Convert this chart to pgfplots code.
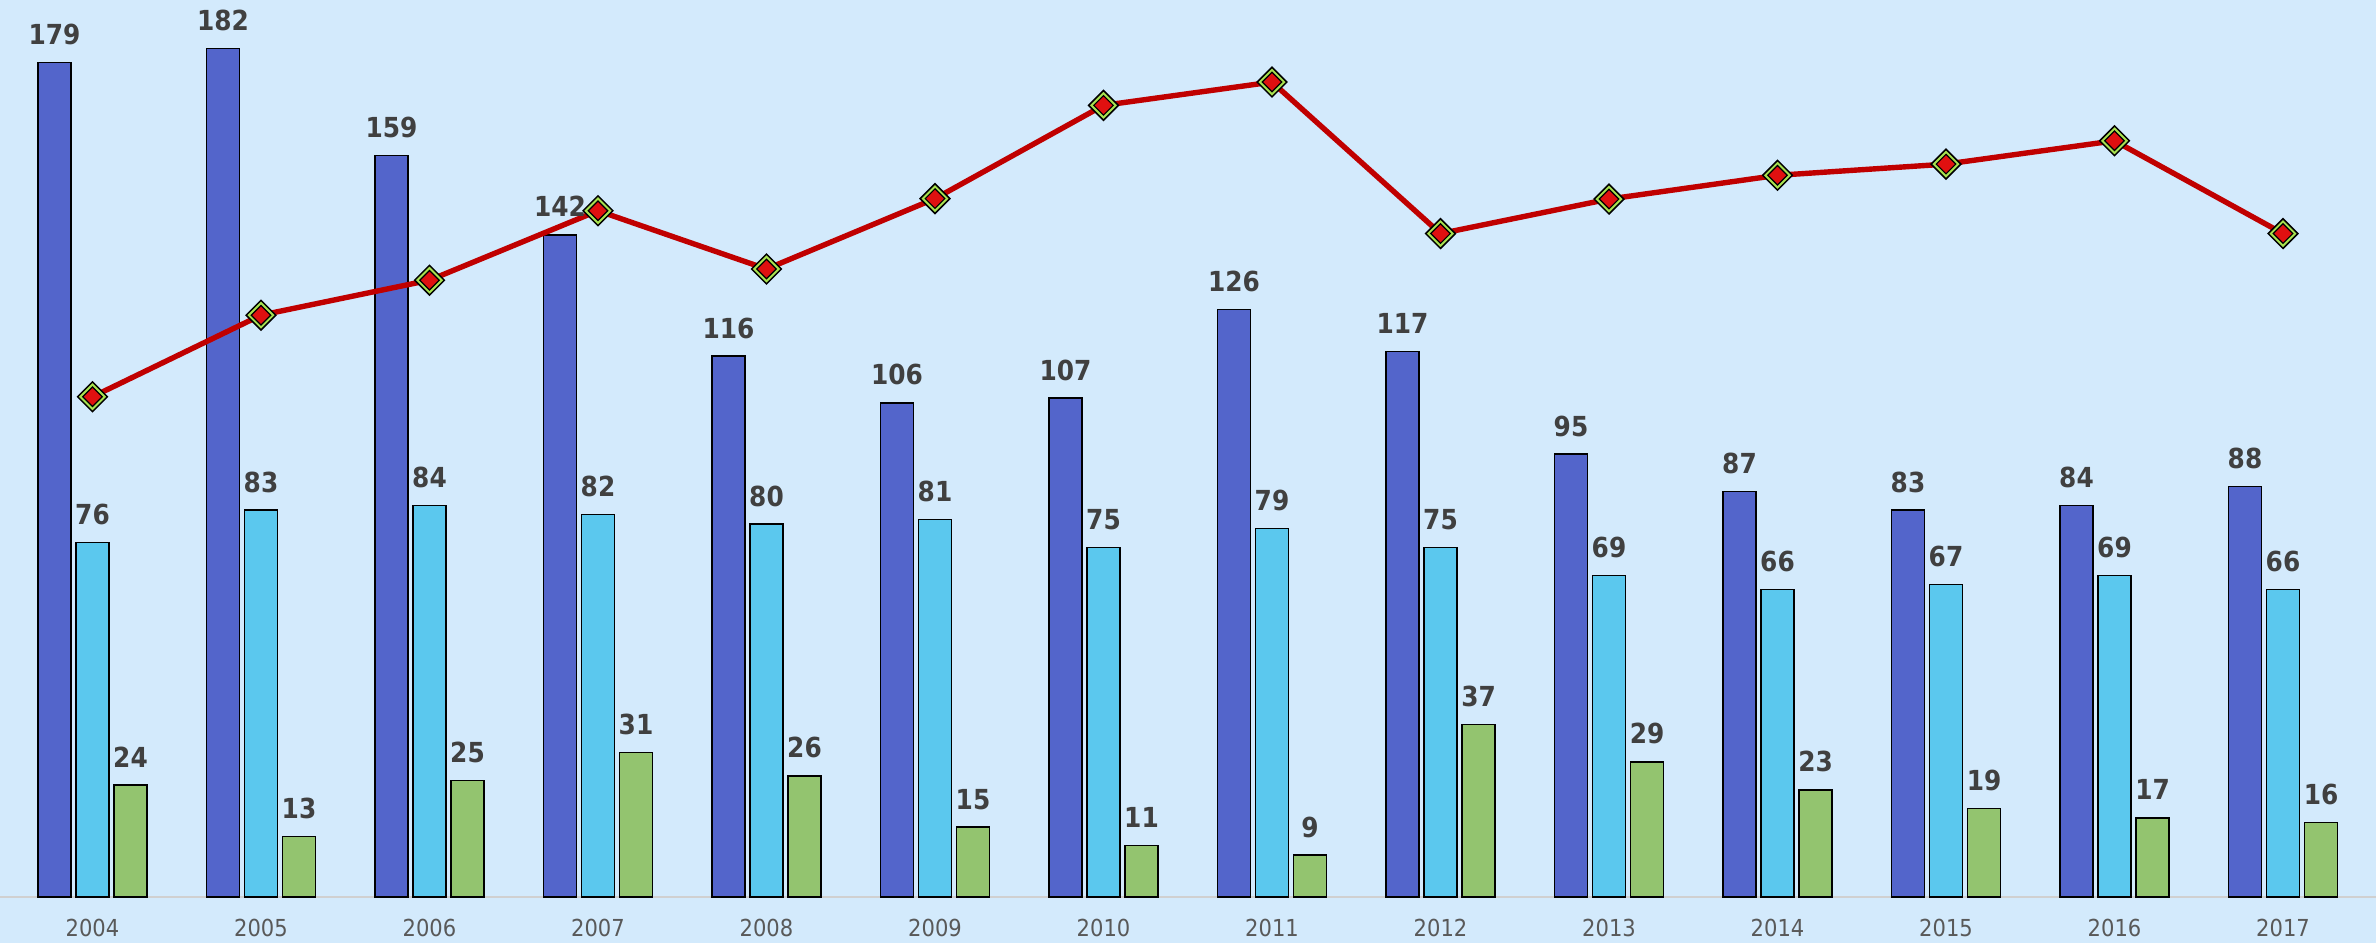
\documentclass[border=0pt]{standalone}
\usepackage{pgfplots}
\usepackage{pgfplotstable}
\pgfplotsset{compat=1.18}
\usepackage{fontspec}
\setmainfont{DejaVu Sans Condensed}
\definecolor{bg}{HTML}{D3EAFC}
\definecolor{labelgray}{HTML}{404040}
\definecolor{tickgray}{HTML}{595959}
\definecolor{axisgray}{HTML}{D0D0D0}
\definecolor{db}{HTML}{5365CB}
\definecolor{cy}{HTML}{5BC8EE}
\definecolor{gr}{HTML}{93C46F}
\definecolor{linered}{HTML}{C00000}
\definecolor{mkgreen}{HTML}{A8E250}
\definecolor{mkred}{HTML}{E01010}

\pgfplotstableread{
x dark cyan green line
0 179 76 24 107.3
1 182 83 13 124.8
2 159 84 25 132.3
3 142 82 31 147.2
4 116 80 26 134.7
5 106 81 15 149.8
6 107 75 11 169.8
7 126 79 9 174.8
8 117 75 37 142.3
9 95 69 29 149.7
10 87 66 23 154.8
11 83 67 19 157.2
12 84 69 17 162.2
13 88 66 16 142.3
}\datatable

\begin{document}
\begin{tikzpicture}
\useasboundingbox (0,0) rectangle (792pt,314.33pt);
\fill[bg] (0,0) rectangle (792pt,314.33pt);
\begin{axis}[
  at={(0pt,15.33pt)}, anchor=south west,
  scale only axis, width=792pt, height=299pt,
  xmin=-0.549, xmax=13.552, ymin=0, ymax=192.4,
  axis y line=none,
  axis x line*=bottom,
  x axis line style={axisgray, line width=0.6pt},
  xtick={0,...,13},
  xticklabels={2004,2005,2006,2007,2008,2009,2010,2011,2012,2013,2014,2015,2016,2017},
  major tick length=0pt,
  xticklabel style={anchor=base, yshift=-13pt, inner sep=0pt, text=tickgray, font=\fontsize{7.8}{9}\selectfont},
  clip=false,
  bar width=0.196,
  /pgf/number format/assume math mode=true,
  nodes near coords style={font=\bfseries\fontsize{9.2}{10}\selectfont, text=labelgray, anchor=base, yshift=6pt, inner sep=0pt},
]
\addplot[ybar, bar shift=-0.2255, draw=black, line width=0.5pt, fill=db, nodes near coords,
  every node near coord/.append style={xshift=-12.67pt}] table[x=x, y=dark] {\datatable};
\addplot[ybar, bar shift=0, draw=black, line width=0.5pt, fill=cy, nodes near coords] table[x=x, y=cyan] {\datatable};
\addplot[ybar, bar shift=0.2255, draw=black, line width=0.5pt, fill=gr, nodes near coords,
  every node near coord/.append style={xshift=12.67pt}] table[x=x, y=green] {\datatable};
\addplot[linered, line width=1.8pt, mark=square*, mark size=3.5pt,
  mark options={rotate=45, fill=mkgreen, draw=black, line width=0.5pt}] table[x=x, y=line] {\datatable};
\addplot[only marks, mark=square*, mark size=2.3pt,
  mark options={rotate=45, fill=mkred, draw=none}] table[x=x, y=line] {\datatable};
\end{axis}
\end{tikzpicture}
\end{document}
